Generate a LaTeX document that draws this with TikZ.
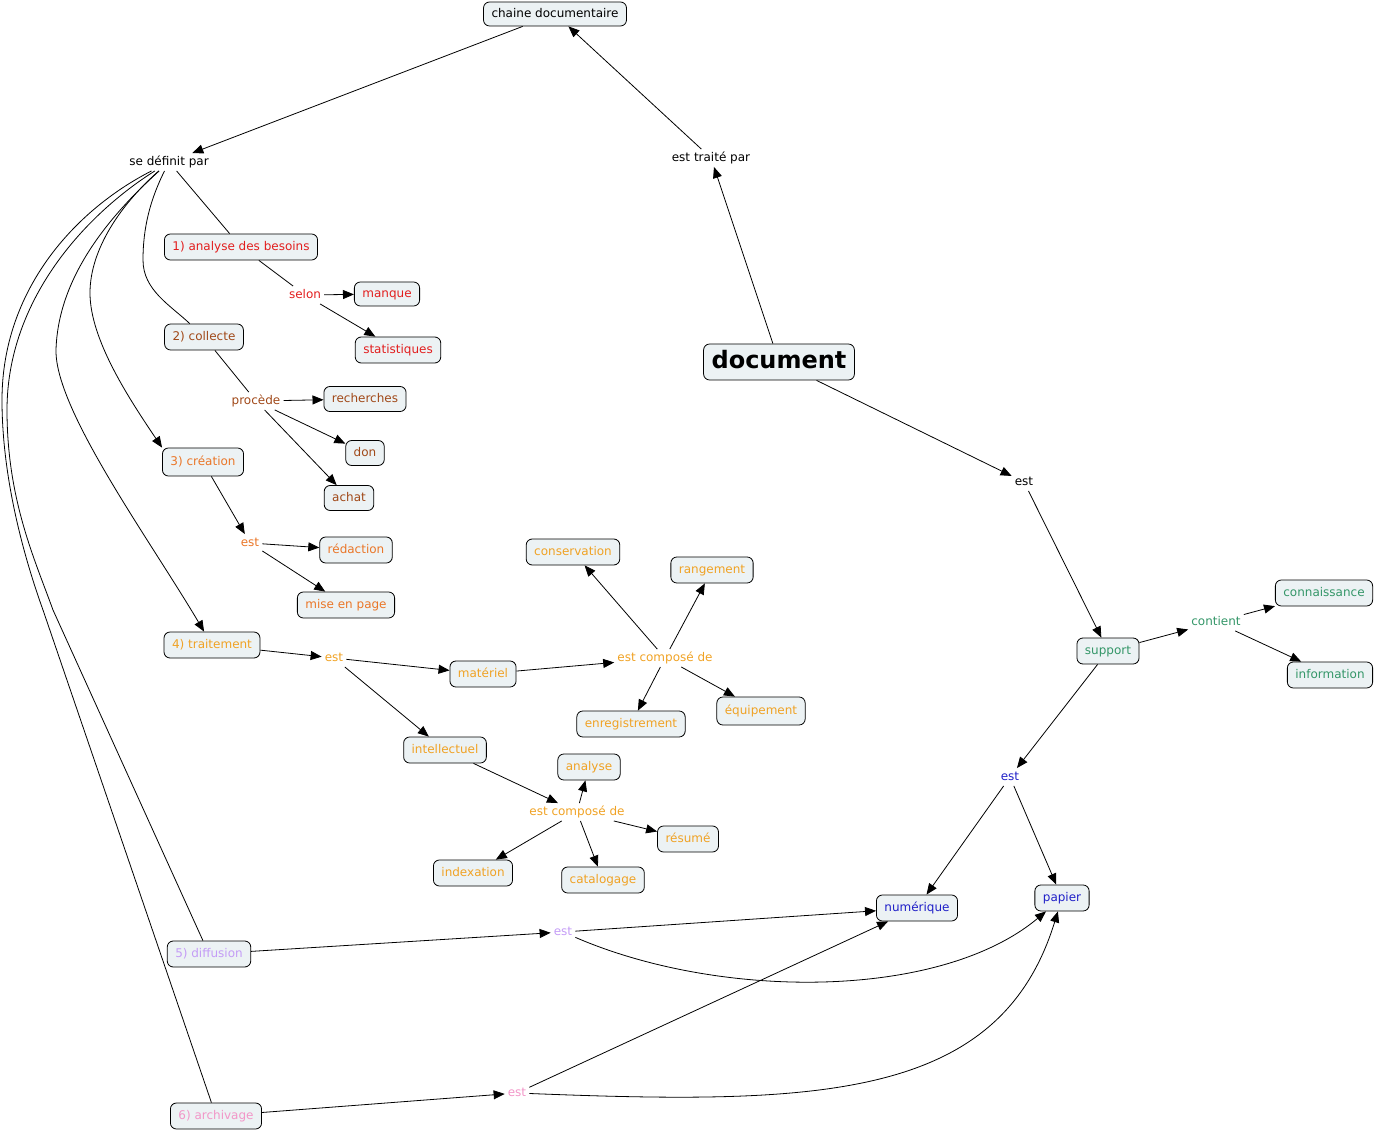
\documentclass[tikz,border=0pt]{standalone}
\usepackage{fontspec}
\setmainfont{DejaVu Sans}
\usetikzlibrary{arrows.meta}
\usepackage{xcolor}

\definecolor{boxfill}{RGB}{236,242,244}
\definecolor{cRed}{RGB}{226,30,30}
\definecolor{cBrown}{RGB}{160,72,24}
\definecolor{cOrange}{RGB}{234,118,40}
\definecolor{cAmber}{RGB}{240,162,36}
\definecolor{cGreen}{RGB}{52,150,104}
\definecolor{cBlue}{RGB}{32,32,200}
\definecolor{cLilac}{RGB}{196,156,246}
\definecolor{cPink}{RGB}{242,150,200}

\begin{document}
\begin{tikzpicture}[x=1pt, y=-1pt, font=\fontsize{12}{14}\selectfont]
            \tikzstyle{concept} = [rectangle, rounded corners=6pt, draw=black, line width=0.8pt, fill=boxfill, inner xsep=8pt, inner ysep=0pt, minimum height=26pt, text height=9pt, text depth=2.5pt]
            \tikzstyle{phrase} = [inner sep=3pt, text height=9pt, text depth=2.5pt]
            \tikzstyle{relation} = [-{Triangle[length=11pt, width=9pt]}, line width=0.8pt, draw=black]
            \tikzstyle{bond} = [line width=0.8pt, draw=black]
            \useasboundingbox (0,0) rectangle (1374,1131);

            % top of the map
            \node[concept, minimum height=24pt] (chaine) at (555, 14) {chaine documentaire};
            \node[phrase] (definit) at (169, 162) {se définit par};
            \node[phrase] (traite) at (711, 158) {est traité par};
            \node[concept, minimum height=36pt, text height=18pt, text depth=5pt, font=\fontsize{24}{28}\selectfont\bfseries] (document) at (779, 362) {document};

            % support
            \node[phrase] (estDoc) at (1024, 482) {est};
            \node[concept, text=cGreen] (support) at (1108, 651) {support};
            \node[phrase, text=cGreen] (contient) at (1216, 622) {contient};
            \node[concept, text=cGreen] (connaissance) at (1324, 593) {connaissance};
            \node[concept, text=cGreen] (information) at (1330, 675) {information};
            \node[phrase, text=cBlue] (estSupport) at (1010, 777) {est};
            \node[concept, text=cBlue] (numerique) at (917, 908) {numérique};
            \node[concept, text=cBlue] (papier) at (1062, 898) {papier};

            % 1) and 2)
            \node[concept, text=cRed] (besoins) at (241, 247) {1) analyse des besoins};
            \node[phrase, text=cRed] (selon) at (305, 295) {selon};
            \node[concept, text=cRed, minimum height=24pt] (manque) at (387, 294) {manque};
            \node[concept, text=cRed] (statistiques) at (398, 350) {statistiques};
            \node[concept, text=cBrown] (collecte) at (204, 337) {2) collecte};
            \node[phrase, text=cBrown] (procede) at (256, 401) {procède};
            \node[concept, text=cBrown, minimum height=25pt] (recherches) at (365, 399) {recherches};
            \node[concept, text=cBrown, minimum height=25pt] (don) at (365, 453) {don};
            \node[concept, text=cBrown, minimum height=25pt] (achat) at (349, 498) {achat};

            % 3) and 4)
            \node[concept, text=cOrange, minimum height=28pt] (creation) at (203, 462) {3) création};
            \node[phrase, text=cOrange] (estCreation) at (250, 543) {est};
            \node[concept, text=cOrange] (redaction) at (356, 550) {rédaction};
            \node[concept, text=cOrange] (miseenpage) at (346, 605) {mise en page};
            \node[concept, text=cAmber] (traitement) at (212, 645) {4) traitement};
            \node[phrase, text=cAmber] (estTraitement) at (334, 658) {est};
            \node[concept, text=cAmber] (materiel) at (483, 674) {matériel};
            \node[phrase, text=cAmber] (composeMat) at (665, 658) {est composé de};
            \node[concept, text=cAmber] (conservation) at (573, 552) {conservation};
            \node[concept, text=cAmber] (rangement) at (712, 570) {rangement};
            \node[concept, text=cAmber] (enregistrement) at (631, 724) {enregistrement};
            \node[concept, text=cAmber, minimum height=28pt] (equipement) at (761, 711) {équipement};
            \node[concept, text=cAmber] (intellectuel) at (445, 750) {intellectuel};
            \node[phrase, text=cAmber] (composeInt) at (577, 812) {est composé de};
            \node[concept, text=cAmber] (analyse) at (589, 767) {analyse};
            \node[concept, text=cAmber] (resume) at (688, 839) {résumé};
            \node[concept, text=cAmber] (catalogage) at (603, 880) {catalogage};
            \node[concept, text=cAmber] (indexation) at (473, 873) {indexation};

            % 5) and 6)
            \node[concept, text=cLilac] (diffusion) at (209, 954) {5) diffusion};
            \node[phrase, text=cLilac] (estDiffusion) at (563, 932) {est};
            \node[concept, text=cPink] (archivage) at (216, 1116) {6) archivage};
            \node[phrase, text=cPink] (estArchivage) at (517, 1093) {est};

            \draw[relation] (chaine) -- (definit);
            \draw[relation] (document) -- (traite);
            \draw[relation] (traite) -- (chaine);
            \draw[relation] (document) -- (estDoc);
            \draw[relation] (estDoc) -- (support);
            \draw[relation] (support) -- (contient);
            \draw[relation] (contient) -- (connaissance);
            \draw[relation] (contient) -- (information);
            \draw[relation] (support) -- (estSupport);
            \draw[relation] (estSupport) -- (numerique);
            \draw[relation] (estSupport) -- (papier);

            \draw[bond] (definit) -- (besoins);
            \draw[bond] (definit) .. controls (150, 200) and (143, 228) .. (143, 260) .. controls (143, 290) and (170, 305) .. (collecte);
            \draw[relation] (definit) .. controls (120, 205) and (90, 250) .. (90, 293) .. controls (90, 340) and (130, 400) .. (creation.north west);
            \draw[relation] (definit) .. controls (105, 220) and (58, 280) .. (56, 350) .. controls (55, 410) and (150, 540) .. (traitement);
            \draw[bond] (definit) .. controls (85, 215) and (7, 300) .. (7, 410) .. controls (7, 500) and (35, 560) .. (53, 610) -- (diffusion);
            \draw[bond] (definit) .. controls (75, 210) and (2, 290) .. (2, 400) .. controls (2, 480) and (25, 560) .. (43, 610) -- (archivage);

            \draw[bond] (besoins) -- (selon);
            \draw[relation] (selon) -- (manque);
            \draw[relation] (selon) -- (statistiques);
            \draw[bond] (collecte) -- (procede);
            \draw[relation] (procede) -- (recherches);
            \draw[relation] (procede) -- (don);
            \draw[relation] (procede) -- (achat);

            \draw[relation] (creation) -- (estCreation);
            \draw[relation] (estCreation) -- (redaction);
            \draw[relation] (estCreation) -- (miseenpage);
            \draw[relation] (traitement) -- (estTraitement);
            \draw[relation] (estTraitement) -- (materiel);
            \draw[relation] (estTraitement) -- (intellectuel);
            \draw[relation] (materiel) -- (composeMat);
            \draw[relation] (composeMat) -- (conservation);
            \draw[relation] (composeMat) -- (rangement);
            \draw[relation] (composeMat) -- (enregistrement);
            \draw[relation] (composeMat) -- (equipement);
            \draw[relation] (intellectuel) -- (composeInt);
            \draw[relation] (composeInt) -- (analyse);
            \draw[relation] (composeInt) -- (resume);
            \draw[relation] (composeInt) -- (catalogage);
            \draw[relation] (composeInt) -- (indexation);

            \draw[relation] (diffusion) -- (estDiffusion);
            \draw[relation] (estDiffusion) -- (numerique);
            \draw[relation] (estDiffusion) .. controls (720, 1000) and (940, 1000) .. (papier);
            \draw[relation] (archivage) -- (estArchivage);
            \draw[relation] (estArchivage) -- (numerique);
            \draw[relation] (estArchivage) .. controls (820, 1105) and (1000, 1100) .. (papier);
        \end{tikzpicture}
\end{document}
